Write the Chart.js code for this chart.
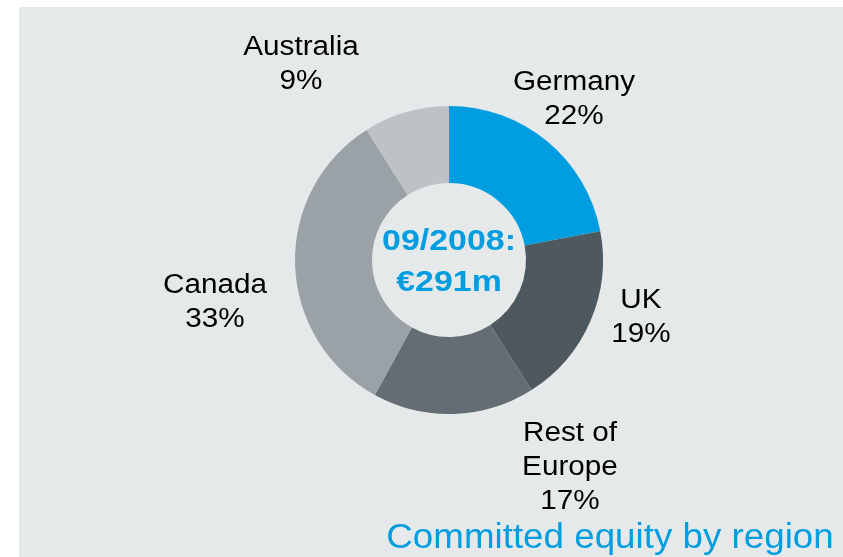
<!DOCTYPE html>
<html>
<head>
<meta charset="utf-8">
<script src="https://cdn.jsdelivr.net/npm/chart.js@4"></script>
<style>
  html, body { margin: 0; padding: 0; background: #ffffff; }
  #panel { position: absolute; left: 19px; top: 7px; width: 824px; height: 550px; background: #e6e9ea; }
</style>
</head>
<body>
<div id="panel"><canvas id="regionChart" width="824" height="550"></canvas></div>
<script>
const regions = ['Germany', 'UK', 'Rest of Europe', 'Canada', 'Australia'];
const labelLines = [['Germany'], ['UK'], ['Rest of', 'Europe'], ['Canada'], ['Australia']];
const shares = [22, 19, 17, 33, 9];
const centerLines = ['09/2008:', '\u20AC291m'];
const chartTitle = 'Committed equity by region';

const sliceColors = ['#009ee0', '#4e585f', '#646d74', '#9aa2a7', '#bcc2c5'];
// label anchor offsets from the doughnut centre (first baseline)
const labelOffsets = [[125, -170], [192, 48], [121, 181], [-234, 33], [-148, -205]];

function stretchedText(ctx, text, x, y, sx) {
  ctx.save();
  ctx.translate(x, y);
  ctx.scale(sx, 1);
  ctx.fillText(text, 0, 0);
  ctx.restore();
}

const textPlugin = {
  id: 'textPlugin',
  afterDraw(chart) {
    const ctx = chart.ctx;
    const arc = chart.getDatasetMeta(0).data[0];
    const cx = arc.x, cy = arc.y;
    ctx.save();
    ctx.textAlign = 'center';
    ctx.textBaseline = 'alphabetic';

    // slice labels
    ctx.fillStyle = '#000000';
    ctx.font = '27px "Liberation Sans", Arial, sans-serif';
    shares.forEach(function (v, i) {
      const lines = labelLines[i].concat([v + '%']);
      const ox = cx + labelOffsets[i][0];
      let oy = cy + labelOffsets[i][1];
      lines.forEach(function (t) {
        stretchedText(ctx, t, ox, oy, 1.1);
        oy += 34;
      });
    });

    // centre text
    ctx.fillStyle = '#009ee0';
    ctx.font = 'bold 30px "Liberation Sans", Arial, sans-serif';
    stretchedText(ctx, centerLines[0], cx, cy - 10, 1.13);
    stretchedText(ctx, centerLines[1], cx, cy + 31, 1.13);

    // title bottom right
    ctx.font = '35px "Liberation Sans", Arial, sans-serif';
    stretchedText(ctx, chartTitle, 591, 541, 1.05);
    ctx.restore();
  }
};

const ctx = document.getElementById('regionChart').getContext('2d');
const regionChart = new Chart(ctx, {
  type: 'doughnut',
  data: {
    labels: regions,
    datasets: [{
      data: shares,
      backgroundColor: sliceColors,
      borderWidth: 0
    }]
  },
  options: {
    responsive: false,
    animation: false,
    cutout: '50%',
    layout: {
      padding: { left: 276, right: 240, top: 99, bottom: 143 }
    },
    plugins: {
      legend: { display: false },
      tooltip: { enabled: false }
    }
  },
  plugins: [textPlugin]
});
</script>
</body>
</html>
